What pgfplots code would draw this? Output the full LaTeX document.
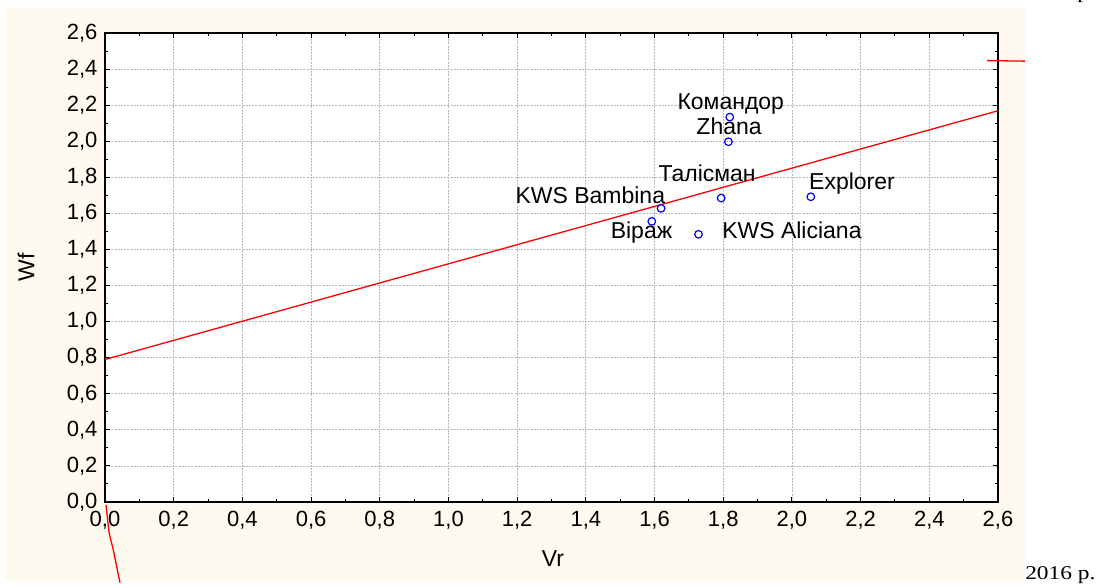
\documentclass[border=0pt]{standalone}
\usepackage{fontspec}
\setmainfont{Liberation Sans}
\newfontfamily\seriffont{Liberation Serif}
\usepackage{pgfplots}
\pgfplotsset{compat=1.18}
\definecolor{cream}{RGB}{254,250,239}
\definecolor{gridgray}{RGB}{185,185,185}
\newcommand{\tickfont}{\fontsize{22}{22}\selectfont}
\begin{document}
\begin{tikzpicture}[x=1pt,y=1pt]
\path[use as bounding box] (0,0) rectangle (1099,588);
\fill[cream] (5,7) rectangle (1025,581);
\node[anchor=base west, font=\seriffont\fontsize{19.5}{19.5}\selectfont, xscale=1.2, inner sep=0pt] at (1025,8) {2016 р.};
\node[anchor=base west, font=\seriffont\fontsize{19.5}{19.5}\selectfont, xscale=1.2, inner sep=0pt] at (1077,589) {р.};
\begin{axis}[
  at={(105pt,86pt)}, anchor=south west,
  scale only axis, width=893pt, height=469pt,
  xmin=0, xmax=2.6, ymin=0, ymax=2.6,
  xtick={0,0.2,0.4,0.6,0.8,1.0,1.2,1.4,1.6,1.8,2.0,2.2,2.4,2.6},
  ytick={0,0.2,0.4,0.6,0.8,1.0,1.2,1.4,1.6,1.8,2.0,2.2,2.4,2.6},
  xticklabels={{0,0},{0,2},{0,4},{0,6},{0,8},{1,0},{1,2},{1,4},{1,6},{1,8},{2,0},{2,2},{2,4},{2,6}},
  yticklabels={{0,0},{0,2},{0,4},{0,6},{0,8},{1,0},{1,2},{1,4},{1,6},{1,8},{2,0},{2,2},{2,4},{2,6}},
  minor x tick num=1, minor y tick num=1,
  tick align=inside,
  major tick length=5pt, minor tick length=3pt,
  tick style={black, line width=1pt},
  grid=major,
  major grid style={gridgray, dash pattern=on 2pt off 1.2pt, line width=0.8pt},
  axis line style={black, line width=1.5pt},
  axis background/.style={fill=white},
  clip=false,
  xticklabel style={font=\tickfont, yshift=-6pt},
  yticklabel style={font=\tickfont, xshift=-4pt},
  xlabel={Vr},
  ylabel={Wf},
  label style={font=\fontsize{23}{23}\selectfont},
  xlabel style={at={(axis description cs:0.5017,-0.1215)}, anchor=center},
  ylabel style={at={(axis description cs:-0.0885,0.501)}, anchor=center, rotate=0},
]
% regression line
\addplot[red, line width=1.3pt] coordinates {(0,0.79) (2.6,2.169)};
% fragments of curves
\addplot[red, line width=1.3pt, smooth] coordinates {(0.0029,-0.0166) (0.0067,-0.0815) (0.0125,-0.1739) (0.0242,-0.2661) (0.0340,-0.3587) (0.0437,-0.4473)};
\addplot[red, line width=1.3pt] coordinates {(2.568,2.447) (2.678,2.444)};
% data points
\addplot[only marks, mark=o, mark size=3.8pt, blue, mark options={line width=1.2pt}] coordinates {
(1.819,2.134) (1.815,1.997) (1.794,1.685) (2.055,1.692) (1.619,1.628) (1.592,1.556) (1.728,1.484)};
% labels
\begin{scope}[every node/.style={anchor=base, inner sep=0pt, font=\fontsize{23}{23}\selectfont}]
\node at (axis cs:1.822,2.178) {Командор};
\node at (axis cs:1.817,2.040) {Zhana};
\node at (axis cs:1.753,1.774) {Талісман};
\node at (axis cs:2.175,1.735) {Explorer};
\node at (axis cs:1.413,1.652) {KWS Bambina};
\node at (axis cs:1.562,1.463) {Віраж};
\node at (axis cs:2.000,1.463) {KWS Aliciana};
\end{scope}
\end{axis}
\end{tikzpicture}
\end{document}
